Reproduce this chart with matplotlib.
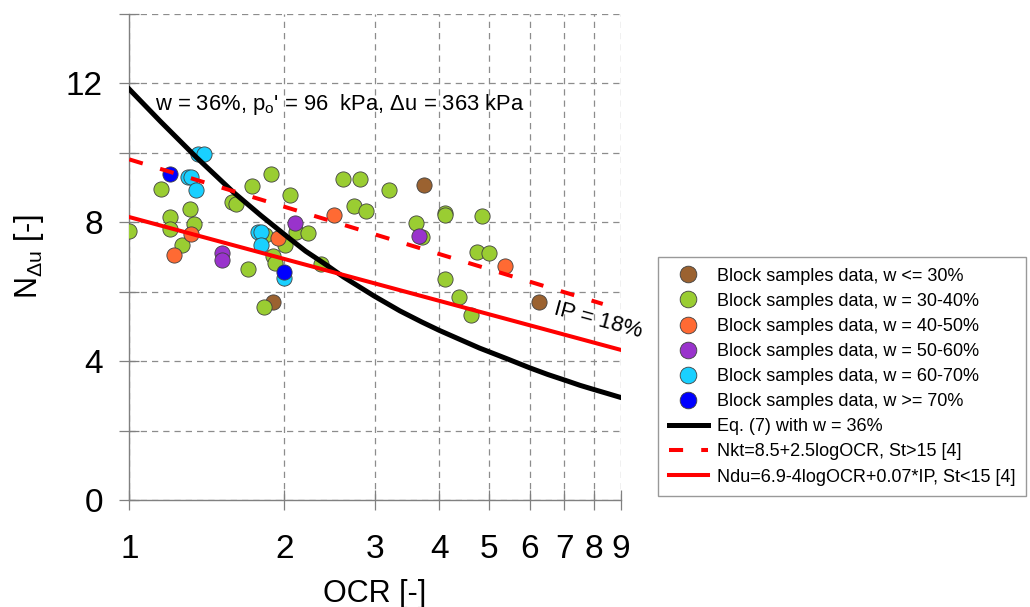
import matplotlib
matplotlib.use("Agg")
import matplotlib.pyplot as plt
from matplotlib.lines import Line2D

plt.rcParams['font.family'] = ['Liberation Sans', 'DejaVu Sans']
plt.rcParams['mathtext.fontset'] = 'custom'
plt.rcParams['mathtext.rm'] = 'Liberation Sans'
plt.rcParams['mathtext.it'] = 'Liberation Sans:italic'

# block samples, grouped by water content (OCR, N_du)
brown_ocr = [1.904, 3.735, 6.25]
brown_n = [5.72, 9.08, 5.70]

green_ocr = [1.00, 1.151, 1.199, 1.199, 1.314, 1.337, 1.264, 1.58, 1.611, 1.729,
             1.884, 1.698, 1.834, 1.898, 1.918, 1.829, 2.006, 2.054, 2.104, 2.221,
             2.356, 2.597, 2.805, 2.731, 2.877, 3.198, 3.598, 3.697, 4.10, 4.11,
             4.85, 4.10, 4.37, 4.62, 4.73, 4.99]
green_n = [7.76, 8.95, 8.16, 7.80, 8.37, 7.95, 7.34, 8.59, 8.52, 9.04,
           9.39, 6.65, 7.63, 7.04, 6.84, 5.57, 7.35, 8.79, 7.73, 7.70,
           6.80, 9.24, 9.24, 8.47, 8.33, 8.93, 7.99, 7.57, 8.28, 8.20,
           8.18, 6.36, 5.84, 5.33, 7.15, 7.11]

orange_ocr = [1.318, 1.22, 1.947, 2.498, 5.37]
orange_n = [7.67, 7.06, 7.56, 8.21, 6.74]

purple_ocr = [1.512, 1.512, 2.098, 3.652]
purple_n = [7.11, 6.92, 7.98, 7.61]

cyan_ocr = [1.358, 1.398, 1.302, 1.318, 1.347, 1.775, 1.802, 1.80, 2.0]
cyan_n = [9.97, 9.97, 9.31, 9.30, 8.93, 7.73, 7.73, 7.35, 6.39]

blue_ocr = [1.199, 2.0]
blue_n = [9.39, 6.58]

# Eq. (7) curve
eq7_ocr = [1.0, 1.15, 1.352, 1.592, 1.8, 2.021, 2.2, 2.416, 2.604, 2.8, 2.988,
           3.355, 3.7, 4.0, 4.4, 4.79, 5.4, 6.0, 6.5, 7.07, 7.5, 8.02, 8.5, 9.0]
eq7_n = [11.83, 10.90, 9.86, 8.87, 8.20, 7.60, 7.17, 6.77, 6.43, 6.14, 5.88,
         5.45, 5.13, 4.89, 4.62, 4.38, 4.08, 3.81, 3.62, 3.44, 3.31, 3.18, 3.07, 2.96]

nkt_ocr = [1.0, 8.31]
nkt_n = [9.81, 5.65]

ndu_ocr = [1.0, 9.0]
ndu_n = [8.15, 4.33]

groups = [
    (brown_ocr, brown_n, '#9B6230', 'Block samples data, w <= 30%'),
    (green_ocr, green_n, '#9ACD32', 'Block samples data, w = 30-40%'),
    (orange_ocr, orange_n, '#FF6A33', 'Block samples data, w = 40-50%'),
    (purple_ocr, purple_n, '#9933CC', 'Block samples data, w = 50-60%'),
    (cyan_ocr, cyan_n, '#19D0FF', 'Block samples data, w = 60-70%'),
    (blue_ocr, blue_n, '#0000FF', 'Block samples data, w >= 70%'),
]

fig = plt.figure(figsize=(10.3, 6.07), dpi=100)
ax = fig.add_axes([0.1255, 0.1758, 0.477, 0.8015])

ax.set_xscale('log')
ax.set_xlim(1, 9)
ax.set_ylim(0, 14)

ax.grid(True, which='major', color='#8c8c8c', linestyle=(0, (5, 4)), linewidth=0.9)
ax.set_axisbelow(True)

dash = (0, (3.5, 4.5))
handles = []
for xs, ys, col, lab in groups:
    ax.scatter(xs, ys, s=120, color=col, edgecolors='#404040', linewidths=0.6, zorder=3)
    handles.append(Line2D([], [], marker='o', linestyle='none', markersize=12,
                          markerfacecolor=col, markeredgecolor='#404040',
                          markeredgewidth=0.6, label=lab))

ax.plot(eq7_ocr, eq7_n, color='black', linewidth=3.6, zorder=4)
ax.plot(nkt_ocr, nkt_n, color='red', linewidth=2.9, linestyle=dash, zorder=4)
ax.plot(ndu_ocr, ndu_n, color='red', linewidth=2.9, zorder=4)

handles.append(Line2D([], [], color='black', linewidth=3.6, label='Eq. (7) with w = 36%'))
handles.append(Line2D([], [], color='red', linewidth=2.9, linestyle=dash,
                      label='Nkt=8.5+2.5logOCR, St>15 [4]'))
handles.append(Line2D([], [], color='red', linewidth=2.9,
                      label='Ndu=6.9-4logOCR+0.07*IP, St<15 [4]'))

ax.text(1.122, 11.38, r"w = 36%, p$_\mathregular{o}$' = 96  kPa, $\mathregular{\Delta}$u = 363 kPa",
        fontsize=15.8, ha='left', va='center', zorder=5)
ax.text(8.13, 5.18, 'IP = 18%', fontsize=16, rotation=-15, ha='center', va='center',
        zorder=5)

for s in ['top', 'right']:
    ax.spines[s].set_visible(False)
for s in ['left', 'bottom']:
    ax.spines[s].set_color('#808080')
    ax.spines[s].set_linewidth(1.0)

xt = [1, 2, 3, 4, 5, 6, 7, 8, 9]
ax.set_xticks(xt)
ax.set_xticklabels([str(v) for v in xt], fontsize=24)
ax.xaxis.set_minor_locator(matplotlib.ticker.NullLocator())
yt = [0, 2, 4, 6, 8, 10, 12, 14]
ax.set_yticks(yt)
ax.set_yticklabels(['0', '', '4', '', '8', '', '12', ''], fontsize=24)
ax.tick_params(axis='both', direction='inout', length=14, width=0.9, color='#808080')
ax.tick_params(axis='x', pad=17)
ax.tick_params(axis='y', pad=12)

ax.set_xlabel('OCR [-]', fontsize=22, labelpad=10)
ax.set_ylabel(r'N$_\mathregular{\Delta u}$ [-]', fontsize=22, labelpad=14)

leg = fig.legend(handles=handles, loc='upper left', bbox_to_anchor=(0.639, 0.577),
                 fontsize=13, frameon=True, fancybox=False, edgecolor='#808080',
                 handlelength=2.15, handletextpad=0.5, labelspacing=0.45,
                 borderpad=0.6, borderaxespad=0)
leg.get_frame().set_linewidth(1.0)

fig.savefig('out.png', dpi=100)
